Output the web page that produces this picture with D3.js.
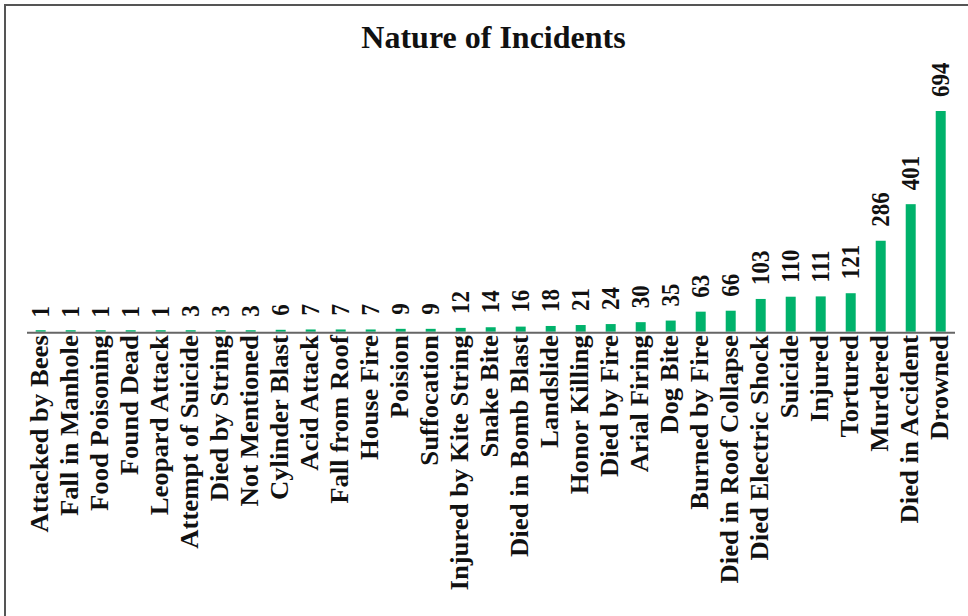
<!DOCTYPE html>
<html>
<head>
<meta charset="utf-8">
<script src="https://cdn.jsdelivr.net/npm/d3@7"></script>
<style>
  html, body { margin: 0; padding: 0; background: #fff; }
  svg { display: block; }
  text { font-family: "Liberation Serif", "Times New Roman", serif; font-weight: bold; fill: #111; }
</style>
</head>
<body>
<svg id="chart" width="968" height="616"></svg>
<script>
// Incident categories, sorted by count
const categories = [
  "Attacked by Bees", "Fall in Manhole", "Food Poisoning", "Found Dead", "Leopard Attack",
  "Attempt of Suicide", "Died by String", "Not Mentioned", "Cylinder Blast", "Acid Attack",
  "Fall from Roof", "House Fire", "Poision", "Suffocation", "Injured by Kite String",
  "Snake Bite", "Died in Bomb Blast", "Landslide", "Honor Killing", "Died by Fire",
  "Arial Firing", "Dog Bite", "Burned by Fire", "Died in Roof Collapse", "Died Electric Shock",
  "Suicide", "Injured", "Tortured", "Murdered", "Died in Accident", "Drowned"
];
const counts = [
  1, 1, 1, 1, 1, 3, 3, 3, 6, 7, 7, 7, 9, 9, 12, 14, 16, 18, 21, 24,
  30, 35, 63, 66, 103, 110, 111, 121, 286, 401, 694
];
const chartTitle = "Nature of Incidents";

const data = categories.map((c, i) => ({ name: c, value: counts[i] }));

const svg = d3.select("#chart");
const W = 968, H = 616;
const baseY = 331.7;

// Outer frame (open on the right and bottom edges of the canvas)
svg.append("rect")
  .attr("x", 5).attr("y", 5)
  .attr("width", W + 20).attr("height", H + 20)
  .attr("fill", "none")
  .attr("stroke", "#555")
  .attr("stroke-width", 2);

const x = d3.scaleBand()
  .domain(categories)
  .range([25.7, 955.7])
  .paddingInner(0.667)
  .paddingOuter(0.333);

const y = d3.scaleLinear()
  .domain([0, d3.max(counts)])
  .range([baseY, 111]);

// Title
svg.append("text")
  .attr("x", 493.5)
  .attr("y", 48)
  .attr("text-anchor", "middle")
  .style("font-size", "32px")
  .text(chartTitle);

// Bars
svg.append("g")
  .selectAll("rect")
  .data(data)
  .join("rect")
  .attr("x", d => x(d.name))
  .attr("width", x.bandwidth())
  .attr("y", d => Math.min(y(d.value), baseY - 1.5))
  .attr("height", d => Math.max(baseY - y(d.value), 1.5))
  .attr("fill", "#00b26b");

// Baseline axis
const axis = d3.axisBottom(x).tickSize(0).tickFormat("");
const axisG = svg.append("g")
  .attr("transform", `translate(0,${baseY + 1})`)
  .call(axis);
axisG.select(".domain")
  .attr("d", "M27,0H955")
  .attr("stroke", "#666")
  .attr("stroke-width", 2);

// Value labels above the bars
svg.append("g")
  .selectAll("text")
  .data(data)
  .join("text")
  .attr("transform", d => {
    const cx = x(d.name) + x.bandwidth() / 2 + 8.6;
    const cy = y(d.value) - 14;
    return `translate(${cx},${cy}) rotate(-90) scale(0.9,1)`;
  })
  .attr("text-anchor", "start")
  .style("font-size", "25.5px")
  .text(d => d.value);

// Category labels below the baseline
svg.append("g")
  .selectAll("text")
  .data(data)
  .join("text")
  .attr("transform", d => {
    const cx = x(d.name) + x.bandwidth() / 2 + 7.5;
    return `translate(${cx},${baseY + 3.5}) rotate(-90) scale(1.09,1)`;
  })
  .attr("text-anchor", "end")
  .style("font-size", "24.5px")
  .text(d => d.name);
</script>
</body>
</html>
